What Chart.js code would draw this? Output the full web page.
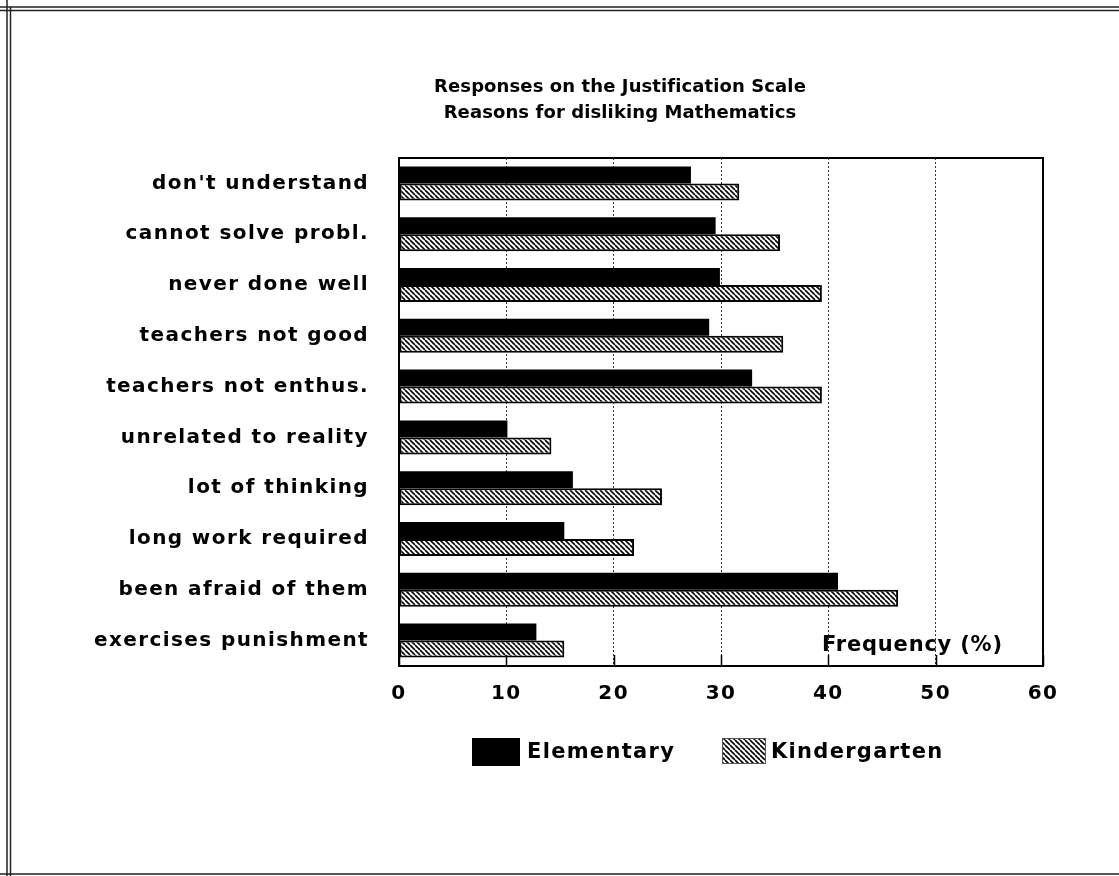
<!DOCTYPE html>
<html>
<head>
<meta charset="utf-8">
<script src="https://cdn.jsdelivr.net/npm/chart.js@4/dist/chart.umd.min.js"></script>
<style>
  html, body { margin: 0; padding: 0; background: #fff; }
  canvas { display: block; }
</style>
</head>
<body>
<canvas id="chart" width="1119" height="876"></canvas>
<script>
// Reasons for disliking mathematics, answer frequency in percent
const reasons = [
  "don't understand",
  "cannot solve probl.",
  "never done well",
  "teachers not good",
  "teachers not enthus.",
  "unrelated to reality",
  "lot of thinking",
  "long work required",
  "been afraid of them",
  "exercises punishment"
];
const elementary   = [27.2, 29.5, 29.9, 28.9, 32.9, 10.1, 16.2, 15.4, 40.9, 12.8];
const kindergarten = [31.7, 35.5, 39.4, 35.8, 39.4, 14.2, 24.5, 21.9, 46.5, 15.4];
const xTicks = [0, 10, 20, 30, 40, 50, 60];
const seriesNames = ['Elementary', 'Kindergarten'];
const titleLines = ['Responses on the Justification Scale', 'Reasons for disliking Mathematics'];
const axisTitle = 'Frequency (%)';

const FONT = "'DejaVu Sans', Verdana, sans-serif";
const canvas = document.getElementById('chart');
const ctx = canvas.getContext('2d');

// diagonal "\" hatching used for the second series
function makeHatch() {
  const s = 5;
  const tile = document.createElement('canvas');
  tile.width = s; tile.height = s;
  const g = tile.getContext('2d');
  g.fillStyle = '#fff';
  g.fillRect(0, 0, s, s);
  g.strokeStyle = '#000';
  g.lineWidth = 1.6;
  g.beginPath();
  for (let k = -1; k <= 1; k++) {
    g.moveTo(k * s, 0);
    g.lineTo(k * s + s, s);
  }
  g.stroke();
  return ctx.createPattern(tile, 'repeat');
}
const hatch = makeHatch();

function spacedText(c, text, x, y, font, spacing, align) {
  c.save();
  c.font = font;
  c.fillStyle = '#000';
  c.textBaseline = 'middle';
  c.textAlign = align || 'left';
  c.letterSpacing = spacing + 'px';
  c.fillText(text, x, y);
  c.restore();
}

const decorations = {
  id: 'decorations',
  beforeDraw(chart) {
    const c = chart.ctx;
    // slightly tracked lettering for the axis labels
    c.letterSpacing = '1.4px';
    // page frame
    c.save();
    c.strokeStyle = '#222';
    c.lineWidth = 1.5;
    c.beginPath();
    c.moveTo(0, 7); c.lineTo(chart.width, 7);
    c.moveTo(0, 10.5); c.lineTo(chart.width, 10.5);
    c.moveTo(7, 0); c.lineTo(7, chart.height);
    c.moveTo(10.5, 7); c.lineTo(10.5, chart.height);
    c.moveTo(0, 874); c.lineTo(chart.width, 874);
    c.stroke();
    c.restore();
  },
  afterDraw(chart) {
    const c = chart.ctx;
    const a = chart.chartArea;
    const xs = chart.scales.x;
    c.save();
    // plot outline
    c.strokeStyle = '#000';
    c.lineWidth = 2;
    c.strokeRect(a.left, a.top, a.right - a.left, a.bottom - a.top);
    // inward tick marks along the bottom
    c.lineWidth = 1.5;
    c.beginPath();
    xTicks.forEach(v => {
      const px = Math.round(xs.getPixelForValue(v)) + 0.5;
      c.moveTo(px, a.bottom);
      c.lineTo(px, a.bottom - 11);
    });
    c.stroke();
    c.restore();

    // title
    const cx = 620;
    spacedText(c, titleLines[0], cx, 87, `bold 18px ${FONT}`, 0.1, 'center');
    spacedText(c, titleLines[1], cx, 113, `bold 18px ${FONT}`, 0.1, 'center');

    // axis caption inside the plot
    spacedText(c, axisTitle, a.right - 221, a.bottom - 20, `bold 21px ${FONT}`, 0.8, 'left');

    // legend
    const ds = chart.data.datasets;
    const ly = a.bottom + 72;
    c.save();
    c.fillStyle = ds[0].backgroundColor;
    c.fillRect(472, ly, 48, 28);
    c.fillStyle = ds[1].backgroundColor;
    c.fillRect(722, ly, 44, 26);
    c.strokeStyle = '#555';
    c.lineWidth = 1;
    c.strokeRect(722.5, ly + 0.5, 43, 25);
    c.restore();
    spacedText(c, ds[0].label, 527, ly + 15, `bold 21px ${FONT}`, 1.3, 'left');
    spacedText(c, ds[1].label, 771, ly + 15, `bold 21px ${FONT}`, 1.3, 'left');
  }
};

new Chart(ctx, {
  type: 'bar',
  data: {
    labels: reasons,
    datasets: [
      {
        label: seriesNames[0],
        data: elementary,
        backgroundColor: '#000',
        borderWidth: 0,
        categoryPercentage: 0.67,
        barPercentage: 1.0
      },
      {
        label: seriesNames[1],
        data: kindergarten,
        backgroundColor: hatch,
        borderColor: '#000',
        borderWidth: 2,
        borderSkipped: false,
        categoryPercentage: 0.67,
        barPercentage: 1.0
      }
    ]
  },
  options: {
    indexAxis: 'y',
    responsive: false,
    animation: false,
    events: [],
    layout: { padding: { top: 158, right: 76, left: 0, bottom: 0 } },
    plugins: {
      legend: { display: false },
      title: { display: false },
      tooltip: { enabled: false }
    },
    scales: {
      x: {
        min: 0,
        max: 60,
        afterBuildTicks: s => { s.ticks = xTicks.map(v => ({ value: v })); },
        afterFit: s => { s.height = 210; },
        grid: { color: '#333', lineWidth: 1, drawTicks: false },
        border: { display: false, dash: [2, 2] },
        ticks: {
          color: '#000',
          padding: 16,
          maxRotation: 0,
          font: { family: FONT, weight: 'bold', size: 20 }
        }
      },
      y: {
        afterFit: s => { s.width = 399; },
        grid: { display: false, drawTicks: false },
        border: { display: false },
        ticks: {
          color: '#000',
          padding: 30,
          font: { family: FONT, weight: 'bold', size: 20 }
        }
      }
    }
  },
  plugins: [decorations]
});
</script>
</body>
</html>
